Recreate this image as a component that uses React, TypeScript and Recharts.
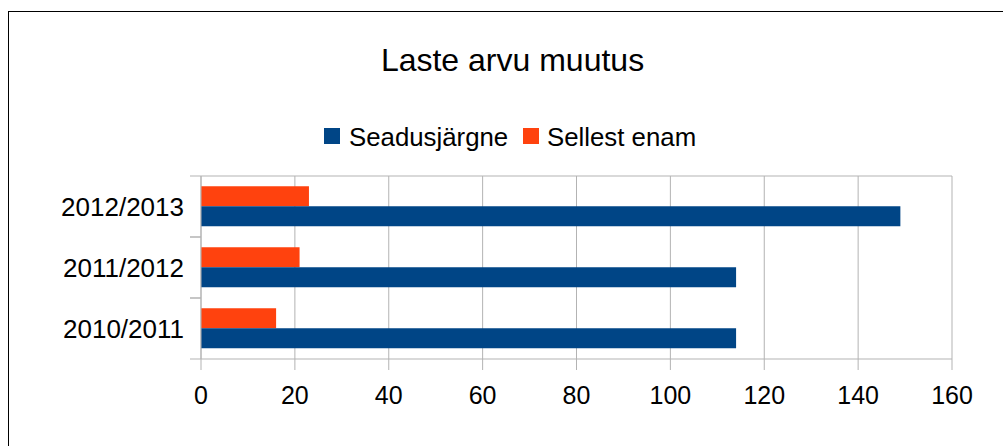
import React from 'react';
import { BarChart, Bar, XAxis, YAxis, CartesianGrid } from 'recharts';

const categories = ['2012/2013', '2011/2012', '2010/2011'];
const seadusjargne = [149, 114, 114];
const sellestEnam = [23, 21, 16];
const xTicks = [0, 20, 40, 60, 80, 100, 120, 140, 160];

const title = 'Laste arvu muutus';
const seriesNames = ['Seadusjärgne', 'Sellest enam'];
const BLUE = '#004586';
const ORANGE = '#ff420e';
const GRID = '#b3b3b3';
const FONT = '"Liberation Sans", Arial, sans-serif';

const data = categories.map((c, i) => ({
  name: c,
  blue: seadusjargne[i],
  orange: sellestEnam[i],
}));

const TICK_MARGIN = 6;
const TICK_SIZE = 11;

// Category tick: label at the band centre, tick marks at the band boundaries
const CategoryTick = (props: any) => {
  const { x, y, payload } = props;
  const half = payload && payload.offset ? payload.offset : 0;
  const x1 = x + TICK_MARGIN;
  const x2 = x1 + TICK_SIZE;
  return (
    <g>
      <line x1={x1} x2={x2} y1={y - half} y2={y - half} stroke={GRID} />
      <line x1={x1} x2={x2} y1={y + half} y2={y + half} stroke={GRID} />
      <text x={x} y={y} dy="0.355em" textAnchor="end" fontFamily={FONT} fontSize={26} fill="#000">
        {payload.value}
      </text>
    </g>
  );
};

export default function App() {
  return (
    <div style={{ position: 'absolute', left: 0, top: 0, width: 1003, height: 446, overflow: 'hidden', background: '#fff' }}>
      <div
        style={{
          position: 'absolute',
          left: 8,
          top: 11,
          width: 1200,
          height: 600,
          border: '1px solid #000',
          boxSizing: 'border-box',
        }}
      />
      <svg style={{ position: 'absolute', left: 0, top: 0 }} width={1003} height={446}>
        <text x={512.5} y={70.5} textAnchor="middle" fontFamily={FONT} fontSize={32} fill="#000">
          {title}
        </text>
        <rect x={324} y={128} width={16} height={16} fill={BLUE} />
        <text x={349} y={145.5} fontFamily={FONT} fontSize={25.8} fill="#000">
          {seriesNames[0]}
        </text>
        <rect x={523} y={128} width={16} height={16} fill={ORANGE} />
        <text x={547} y={145.5} fontFamily={FONT} fontSize={25.8} fill="#000">
          {seriesNames[1]}
        </text>
      </svg>
      <div style={{ position: 'absolute', left: 0, top: 0 }}>
        <BarChart
          width={1003}
          height={446}
          data={data}
          layout="vertical"
          margin={{ top: 175, right: 51, bottom: 57, left: 51 }}
          barCategoryGap="16.7%"
          barGap={0}
        >
          <CartesianGrid horizontal={false} stroke={GRID} />
          <XAxis
            type="number"
            domain={[0, 160]}
            ticks={xTicks}
            interval={0}
            height={30}
            tickSize={11}
            tickMargin={16}
            tick={{ fill: '#000', fontSize: 25, fontFamily: FONT }}
            axisLine={{ stroke: GRID }}
            tickLine={{ stroke: GRID }}
          />
          <XAxis
            xAxisId="top"
            orientation="top"
            type="number"
            domain={[0, 160]}
            height={1}
            tick={false}
            tickLine={false}
            axisLine={{ stroke: GRID }}
          />
          <YAxis
            type="category"
            dataKey="name"
            width={150}
            tickSize={TICK_SIZE}
            tickMargin={TICK_MARGIN}
            interval={0}
            axisLine={{ stroke: GRID }}
            tickLine={false}
            tick={CategoryTick}
          />
          <Bar dataKey="orange" name={seriesNames[1]} fill={ORANGE} isAnimationActive={false} />
          <Bar dataKey="blue" name={seriesNames[0]} fill={BLUE} isAnimationActive={false} />
        </BarChart>
      </div>
    </div>
  );
}
